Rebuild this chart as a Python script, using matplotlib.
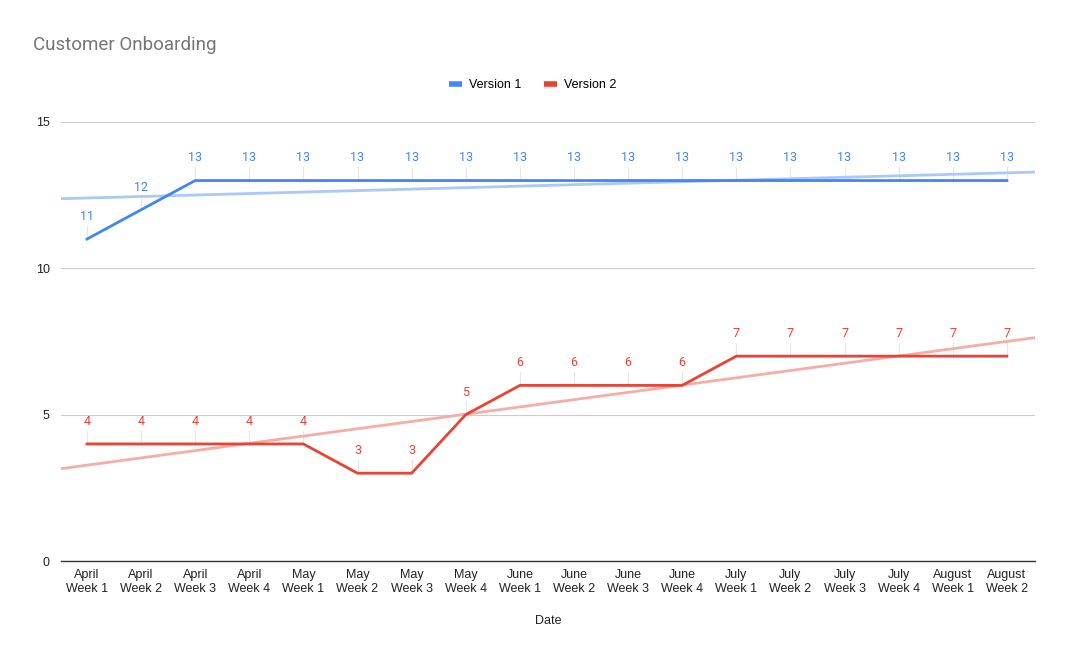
import numpy as np
import matplotlib
matplotlib.use("Agg")
import matplotlib.pyplot as plt

categories = ["April\nWeek 1", "April\nWeek 2", "April\nWeek 3", "April\nWeek 4",
              "May\nWeek 1", "May\nWeek 2", "May\nWeek 3", "May\nWeek 4",
              "June\nWeek 1", "June\nWeek 2", "June\nWeek 3", "June\nWeek 4",
              "July\nWeek 1", "July\nWeek 2", "July\nWeek 3", "July\nWeek 4",
              "August\nWeek 1", "August\nWeek 2"]
version1 = [11, 12, 13, 13, 13, 13, 13, 13, 13, 13, 13, 13, 13, 13, 13, 13, 13, 13]
version2 = [4, 4, 4, 4, 4, 3, 3, 5, 6, 6, 6, 6, 7, 7, 7, 7, 7, 7]
y_ticks = [0, 5, 10, 15]

BLUE = "#4285F4"
RED = "#EA4335"
BLUE_TREND = "#A9C8FB"
RED_TREND = "#F5ADA6"

fig = plt.figure(figsize=(10.68, 6.6), dpi=100)
ax = fig.add_axes([61 / 1068, 1 - 561 / 660, (1035 - 61) / 1068, (561 - 122) / 660])

x = np.arange(len(categories))
xlim = (-0.48, len(categories) - 0.48)

for vals, col, tcol, lab in [(version1, BLUE, BLUE_TREND, "Version 1"),
                              (version2, RED, RED_TREND, "Version 2")]:
    # linear trendline across the full plot width
    m, b = np.polyfit(x, vals, 1)
    xt = np.array(xlim)
    ax.plot(xt, m * xt + b, color=tcol, lw=2, zorder=2)
    ax.plot(x, vals, color=col, lw=2, label=lab, zorder=3)
    for xi, v in zip(x, vals):
        ax.plot([xi, xi], [v, v + 0.45], color="#e6e6e6", lw=0.8, zorder=1)
        ax.text(xi, v + 0.55, str(v), color=col, ha="center", va="bottom",
                fontsize=9, family="Roboto")

ax.set_xlim(*xlim)
ax.set_ylim(0, 15)
ax.set_yticks(y_ticks)
ax.set_xticks(x)
ax.set_xticklabels(categories, fontsize=9, family="Liberation Sans", color="#222222")
ax.set_yticklabels([str(t) for t in y_ticks], fontsize=9, family="Liberation Sans", color="#222222")
ax.tick_params(length=0, pad=6)
ax.tick_params(axis="y", pad=8)
ax.grid(axis="y", color="#cccccc", lw=0.8)
ax.set_axisbelow(True)
for s in ["top", "right", "left"]:
    ax.spines[s].set_visible(False)
ax.spines["bottom"].set_color("#333333")
ax.spines["bottom"].set_linewidth(1)

ax.set_xlabel("Date", fontsize=9, family="Liberation Sans", color="#222222", labelpad=14)

fig.text(33 / 1068, 1 - 45 / 660, "Customer Onboarding", fontsize=13.5, color="#757575",
         family="Roboto", va="center", ha="left")

leg = fig.legend(loc="center", bbox_to_anchor=(533 / 1068, 1 - 85 / 660), ncol=2, frameon=False,
                 handlelength=1.0, handletextpad=0.6, columnspacing=1.8,
                 prop={"family": "Liberation Sans", "size": 9})
for h in leg.get_lines():
    h.set_linewidth(4)
    h.set_solid_capstyle("butt")

fig.savefig("out.png", dpi=100)
